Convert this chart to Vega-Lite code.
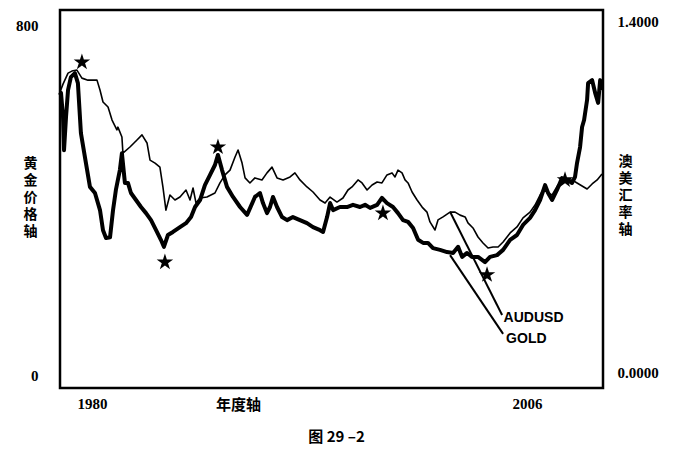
{
  "$schema": "https://vega.github.io/schema/vega-lite/v6.json",
  "description": "Gold price vs AUDUSD, two y axes, book figure 29-2",
  "autosize": {"type": "none"},
  "padding": {"left": 60, "top": 10, "right": 71, "bottom": 62},
  "width": 543,
  "height": 378,
  "background": "white",
  "config": {
    "view": {"stroke": "black", "strokeWidth": 2.5},
    "font": "Liberation Serif"
  },
  "title": {
    "text": "图 29 –2",
    "orient": "bottom",
    "anchor": "middle",
    "offset": 18,
    "dx": 5,
    "font": "Noto Sans CJK SC",
    "fontSize": 15,
    "fontWeight": "bold",
    "color": "black"
  },
  "datasets": {
    "gold": [
      {"year": 1978.09, "gold": 640}, {"year": 1978.15, "gold": 645}, {"year": 1978.27, "gold": 590},
      {"year": 1978.33, "gold": 514}, {"year": 1978.45, "gold": 590}, {"year": 1978.57, "gold": 651},
      {"year": 1978.74, "gold": 681}, {"year": 1978.98, "gold": 690}, {"year": 1979.16, "gold": 667},
      {"year": 1979.34, "gold": 553}, {"year": 1979.58, "gold": 498}, {"year": 1979.88, "gold": 430},
      {"year": 1980.18, "gold": 416}, {"year": 1980.48, "gold": 377}, {"year": 1980.66, "gold": 331},
      {"year": 1980.84, "gold": 313}, {"year": 1981.08, "gold": 315}, {"year": 1981.26, "gold": 377},
      {"year": 1981.43, "gold": 423}, {"year": 1981.67, "gold": 469}, {"year": 1981.79, "gold": 507},
      {"year": 1981.97, "gold": 439}, {"year": 1982.15, "gold": 439}, {"year": 1982.33, "gold": 416},
      {"year": 1982.63, "gold": 400}, {"year": 1982.93, "gold": 384}, {"year": 1983.23, "gold": 370},
      {"year": 1983.53, "gold": 354}, {"year": 1983.83, "gold": 331}, {"year": 1984.12, "gold": 309},
      {"year": 1984.3, "gold": 293}, {"year": 1984.54, "gold": 320}, {"year": 1984.84, "gold": 327},
      {"year": 1985.26, "gold": 338}, {"year": 1985.62, "gold": 347}, {"year": 1985.92, "gold": 361},
      {"year": 1986.16, "gold": 384}, {"year": 1986.46, "gold": 400}, {"year": 1986.75, "gold": 434},
      {"year": 1987.05, "gold": 457}, {"year": 1987.35, "gold": 480}, {"year": 1987.53, "gold": 503},
      {"year": 1987.77, "gold": 469}, {"year": 1988.07, "gold": 430}, {"year": 1988.43, "gold": 407},
      {"year": 1988.85, "gold": 384}, {"year": 1989.27, "gold": 366}, {"year": 1989.74, "gold": 407},
      {"year": 1990.04, "gold": 416}, {"year": 1990.22, "gold": 393}, {"year": 1990.46, "gold": 370},
      {"year": 1990.64, "gold": 384}, {"year": 1990.82, "gold": 407}, {"year": 1991.06, "gold": 384},
      {"year": 1991.36, "gold": 361}, {"year": 1991.66, "gold": 354}, {"year": 1992.01, "gold": 361},
      {"year": 1992.43, "gold": 354}, {"year": 1992.85, "gold": 347}, {"year": 1993.21, "gold": 338},
      {"year": 1993.63, "gold": 331}, {"year": 1993.81, "gold": 327}, {"year": 1994.05, "gold": 361},
      {"year": 1994.23, "gold": 393}, {"year": 1994.41, "gold": 377}, {"year": 1994.82, "gold": 384},
      {"year": 1995.24, "gold": 384}, {"year": 1995.6, "gold": 389}, {"year": 1996.02, "gold": 384},
      {"year": 1996.32, "gold": 389}, {"year": 1996.62, "gold": 382}, {"year": 1997.04, "gold": 389},
      {"year": 1997.33, "gold": 405}, {"year": 1997.63, "gold": 393}, {"year": 1997.99, "gold": 384},
      {"year": 1998.29, "gold": 370}, {"year": 1998.59, "gold": 354}, {"year": 1998.89, "gold": 350},
      {"year": 1999.19, "gold": 336}, {"year": 1999.49, "gold": 309}, {"year": 1999.79, "gold": 302},
      {"year": 2000.08, "gold": 302}, {"year": 2000.38, "gold": 290}, {"year": 2000.8, "gold": 286},
      {"year": 2001.22, "gold": 281}, {"year": 2001.58, "gold": 279}, {"year": 2001.88, "gold": 293},
      {"year": 2002.12, "gold": 270}, {"year": 2002.42, "gold": 279}, {"year": 2002.71, "gold": 270},
      {"year": 2003.07, "gold": 270}, {"year": 2003.49, "gold": 258}, {"year": 2003.79, "gold": 270},
      {"year": 2004.21, "gold": 274}, {"year": 2004.57, "gold": 286}, {"year": 2004.99, "gold": 309},
      {"year": 2005.4, "gold": 320}, {"year": 2005.76, "gold": 343}, {"year": 2006.18, "gold": 359},
      {"year": 2006.48, "gold": 377}, {"year": 2006.78, "gold": 400}, {"year": 2007.08, "gold": 434},
      {"year": 2007.26, "gold": 416}, {"year": 2007.5, "gold": 400}, {"year": 2007.79, "gold": 423},
      {"year": 2008.09, "gold": 450}, {"year": 2008.39, "gold": 446}, {"year": 2008.69, "gold": 439},
      {"year": 2008.87, "gold": 453}, {"year": 2008.99, "gold": 485}, {"year": 2009.17, "gold": 521},
      {"year": 2009.29, "gold": 567}, {"year": 2009.41, "gold": 583}, {"year": 2009.59, "gold": 629},
      {"year": 2009.65, "gold": 667}, {"year": 2009.89, "gold": 674}, {"year": 2010.07, "gold": 645},
      {"year": 2010.25, "gold": 622}, {"year": 2010.37, "gold": 674}, {"year": 2010.48, "gold": 651}
    ],
    "aud": [
      {"year": 1978.09, "aud": 1.118}, {"year": 1978.27, "aud": 1.149}, {"year": 1978.57, "aud": 1.193},
      {"year": 1978.8, "aud": 1.201}, {"year": 1979.1, "aud": 1.205}, {"year": 1979.4, "aud": 1.173},
      {"year": 1979.76, "aud": 1.165}, {"year": 1980.3, "aud": 1.165}, {"year": 1980.48, "aud": 1.126},
      {"year": 1980.66, "aud": 1.078}, {"year": 1980.96, "aud": 1.058}, {"year": 1981.2, "aud": 1.006},
      {"year": 1981.49, "aud": 0.967}, {"year": 1981.55, "aud": 0.978}, {"year": 1981.79, "aud": 0.939},
      {"year": 1981.85, "aud": 0.875}, {"year": 1982.27, "aud": 0.899}, {"year": 1982.69, "aud": 0.927},
      {"year": 1982.99, "aud": 0.947}, {"year": 1983.29, "aud": 0.915}, {"year": 1983.47, "aud": 0.847},
      {"year": 1983.77, "aud": 0.835}, {"year": 1984.06, "aud": 0.819}, {"year": 1984.24, "aud": 0.74},
      {"year": 1984.42, "aud": 0.648}, {"year": 1984.66, "aud": 0.708}, {"year": 1984.96, "aud": 0.688},
      {"year": 1985.26, "aud": 0.7}, {"year": 1985.62, "aud": 0.728}, {"year": 1985.86, "aud": 0.688},
      {"year": 1986.04, "aud": 0.736}, {"year": 1986.22, "aud": 0.676}, {"year": 1986.46, "aud": 0.696},
      {"year": 1986.87, "aud": 0.7}, {"year": 1987.35, "aud": 0.716}, {"year": 1987.65, "aud": 0.756},
      {"year": 1987.95, "aud": 0.788}, {"year": 1988.25, "aud": 0.807}, {"year": 1988.55, "aud": 0.859},
      {"year": 1988.73, "aud": 0.887}, {"year": 1988.97, "aud": 0.835}, {"year": 1989.15, "aud": 0.776},
      {"year": 1989.44, "aud": 0.756}, {"year": 1989.74, "aud": 0.776}, {"year": 1990.16, "aud": 0.768},
      {"year": 1990.46, "aud": 0.796}, {"year": 1990.76, "aud": 0.819}, {"year": 1991.06, "aud": 0.776},
      {"year": 1991.42, "aud": 0.768}, {"year": 1991.84, "aud": 0.78}, {"year": 1992.13, "aud": 0.796},
      {"year": 1992.43, "aud": 0.768}, {"year": 1992.85, "aud": 0.74}, {"year": 1993.21, "aud": 0.72},
      {"year": 1993.63, "aud": 0.688}, {"year": 1993.93, "aud": 0.676}, {"year": 1994.23, "aud": 0.7},
      {"year": 1994.64, "aud": 0.68}, {"year": 1995.0, "aud": 0.696}, {"year": 1995.3, "aud": 0.728},
      {"year": 1995.54, "aud": 0.74}, {"year": 1995.9, "aud": 0.768}, {"year": 1996.14, "aud": 0.756},
      {"year": 1996.44, "aud": 0.728}, {"year": 1996.74, "aud": 0.748}, {"year": 1997.04, "aud": 0.76},
      {"year": 1997.33, "aud": 0.756}, {"year": 1997.63, "aud": 0.788}, {"year": 1997.93, "aud": 0.796},
      {"year": 1998.11, "aud": 0.78}, {"year": 1998.29, "aud": 0.807}, {"year": 1998.53, "aud": 0.796},
      {"year": 1998.71, "aud": 0.768}, {"year": 1998.89, "aud": 0.756}, {"year": 1999.13, "aud": 0.72},
      {"year": 1999.43, "aud": 0.688}, {"year": 1999.73, "aud": 0.66}, {"year": 2000.02, "aud": 0.64},
      {"year": 2000.2, "aud": 0.601}, {"year": 2000.5, "aud": 0.569}, {"year": 2000.68, "aud": 0.609},
      {"year": 2000.98, "aud": 0.621}, {"year": 2001.4, "aud": 0.64}, {"year": 2001.7, "aud": 0.64},
      {"year": 2002.0, "aud": 0.628}, {"year": 2002.3, "aud": 0.621}, {"year": 2002.47, "aud": 0.597},
      {"year": 2002.77, "aud": 0.577}, {"year": 2003.07, "aud": 0.541}, {"year": 2003.37, "aud": 0.517},
      {"year": 2003.67, "aud": 0.497}, {"year": 2003.97, "aud": 0.501}, {"year": 2004.27, "aud": 0.501},
      {"year": 2004.57, "aud": 0.521}, {"year": 2004.99, "aud": 0.557}, {"year": 2005.4, "aud": 0.581},
      {"year": 2005.76, "aud": 0.617}, {"year": 2006.18, "aud": 0.64}, {"year": 2006.48, "aud": 0.668},
      {"year": 2006.78, "aud": 0.708}, {"year": 2007.08, "aud": 0.74}, {"year": 2007.26, "aud": 0.716},
      {"year": 2007.5, "aud": 0.708}, {"year": 2007.85, "aud": 0.748}, {"year": 2008.27, "aud": 0.768},
      {"year": 2008.69, "aud": 0.768}, {"year": 2008.99, "aud": 0.756}, {"year": 2009.29, "aud": 0.744},
      {"year": 2009.59, "aud": 0.732}, {"year": 2009.89, "aud": 0.752}, {"year": 2010.19, "aud": 0.768},
      {"year": 2010.48, "aud": 0.792}
    ],
    "stars": [
      {"year": 1979.4, "gold": 715},
      {"year": 1984.36, "gold": 258},
      {"year": 1987.53, "gold": 521},
      {"year": 1997.39, "gold": 370},
      {"year": 2003.61, "gold": 229},
      {"year": 2008.27, "gold": 446}
    ],
    "leaders": [
      {"year": 2001.4, "gold": 373, "year2": 2004.51, "gold2": 137},
      {"year": 2001.4, "gold": 274, "year2": 2004.57, "gold2": 94}
    ],
    "labels": [
      {"year": 2004.6, "gold": 130, "label": "AUDUSD"},
      {"year": 2004.75, "gold": 82, "label": "GOLD"}
    ]
  },
  "layer": [
    {
      "layer": [
        {
          "data": {"name": "gold"},
          "mark": {"type": "line", "color": "black", "strokeWidth": 4, "strokeJoin": "round"},
          "encoding": {
            "x": {
              "field": "year",
              "type": "quantitative",
              "scale": {"domain": [1978.09, 2010.54], "nice": false, "zero": false},
              "axis": {
                "values": [1980, 2006],
                "format": "d",
                "ticks": false,
                "tickSize": 0,
                "domain": false,
                "grid": false,
                "labelPadding": 8,
                "labelFont": "Liberation Serif",
                "labelFontSize": 15,
                "labelFontWeight": "bold",
                "labelColor": "black",
                "title": "年度轴",
                "titleX": 178,
                "titleY": 16,
                "titleAlign": "center",
                "titleBaseline": "middle",
                "titleFont": "Noto Sans CJK SC",
                "titleFontSize": 15,
                "titleFontWeight": "bold",
                "titleColor": "black"
              }
            },
            "y": {
              "field": "gold",
              "type": "quantitative",
              "scale": {"domain": [-29.7, 834.3], "nice": false, "zero": false},
              "axis": {
                "orient": "left",
                "values": [0, 800],
                "ticks": false,
                "tickSize": 0,
                "domain": false,
                "grid": false,
                "labelPadding": 22,
                "labelFont": "Liberation Serif",
                "labelFontSize": 15,
                "labelFontWeight": "bold",
                "labelColor": "black",
                "title": ["黄", "金", "价", "格", "轴"],
                "titleAngle": 0,
                "titleX": -30,
                "titleY": 153,
                "titleAlign": "center",
                "titleBaseline": "middle",
                "titleFont": "Noto Sans CJK SC",
                "titleFontSize": 14,
                "titleFontWeight": "bold",
                "titleLineHeight": 17,
                "titleColor": "black"
              }
            }
          }
        },
        {
          "data": {"name": "stars"},
          "mark": {
            "type": "point",
            "shape": "M0,-1L0.2245,-0.309L0.951,-0.309L0.363,0.118L0.588,0.809L0,0.382L-0.588,0.809L-0.363,0.118L-0.951,-0.309L-0.2245,-0.309Z",
            "filled": true,
            "color": "black",
            "opacity": 1,
            "size": 300
          },
          "encoding": {
            "x": {"field": "year", "type": "quantitative"},
            "y": {"field": "gold", "type": "quantitative"}
          }
        },
        {
          "data": {"name": "leaders"},
          "mark": {"type": "rule", "color": "black", "strokeWidth": 2},
          "encoding": {
            "x": {"field": "year", "type": "quantitative"},
            "y": {"field": "gold", "type": "quantitative"},
            "x2": {"field": "year2"},
            "y2": {"field": "gold2"}
          }
        },
        {
          "data": {"name": "labels"},
          "mark": {
            "type": "text",
            "align": "left",
            "baseline": "middle",
            "font": "Liberation Sans",
            "fontSize": 14,
            "fontWeight": "bold",
            "color": "black"
          },
          "encoding": {
            "x": {"field": "year", "type": "quantitative"},
            "y": {"field": "gold", "type": "quantitative"},
            "text": {"field": "label"}
          }
        }
      ]
    },
    {
      "data": {"name": "aud"},
      "mark": {"type": "line", "color": "black", "strokeWidth": 1.6, "strokeJoin": "round"},
      "encoding": {
        "x": {"field": "year", "type": "quantitative"},
        "y": {
          "field": "aud",
          "type": "quantitative",
          "scale": {"domain": [-0.0597, 1.444], "nice": false, "zero": false},
          "axis": {
            "orient": "right",
            "values": [0, 1.4],
            "format": ".4f",
            "ticks": false,
            "tickSize": 0,
            "domain": false,
            "grid": false,
            "labelPadding": 14,
            "labelFont": "Liberation Serif",
            "labelFontSize": 15,
            "labelFontWeight": "bold",
            "labelColor": "black",
            "title": ["澳", "美", "汇", "率", "轴"],
            "titleAngle": 0,
            "titleX": 22,
            "titleY": 151,
            "titleAlign": "center",
            "titleBaseline": "middle",
            "titleFont": "Noto Sans CJK SC",
            "titleFontSize": 14,
            "titleFontWeight": "bold",
            "titleLineHeight": 17,
            "titleColor": "black"
          }
        }
      }
    }
  ],
  "resolve": {"scale": {"y": "independent"}}
}
